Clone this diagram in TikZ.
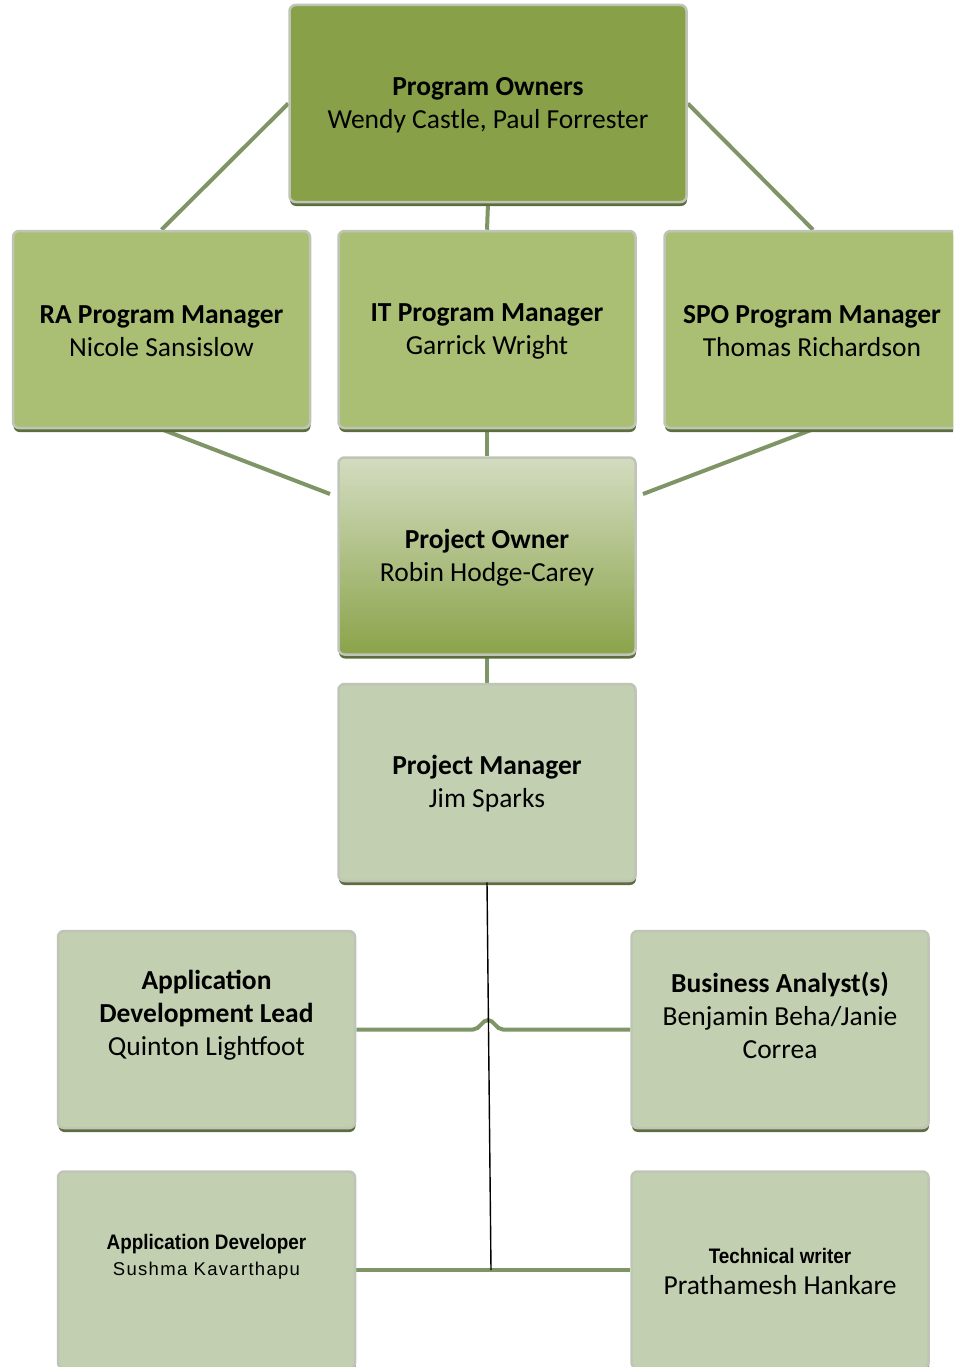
\documentclass[tikz,border=0pt]{standalone}
\usepackage{fontspec}
\setmainfont{Carlito}
\newfontfamily\arialn[FakeStretch=0.9]{Liberation Sans}
\newfontfamily\arialsp[LetterSpace=7]{Liberation Sans}
\usetikzlibrary{shadows,backgrounds}
\definecolor{dkolive}{HTML}{88A048}
\definecolor{midgreen}{HTML}{AABF74}
\definecolor{sage}{HTML}{C2CFB0}
\definecolor{pogtop}{HTML}{D3DCC0}
\definecolor{pogbot}{HTML}{8BA34A}
\definecolor{conn}{HTML}{7F9566}
\definecolor{rimlight}{HTML}{BFC5B6}
\definecolor{rimdark}{HTML}{5E6D3D}
\tikzset{
  orgbox/.style={rectangle, rounded corners=6pt, minimum width=297pt, minimum height=197pt,
    inner sep=0pt, draw=rimlight, line width=2.5pt,
    drop shadow={shadow xshift=0.5pt, shadow yshift=-4pt, fill=rimdark, opacity=1}},
  txt/.style={align=center, inner sep=0pt, font=\fontsize{27.5}{33}\selectfont},
  link/.style={draw=conn, line width=4pt},
  thin/.style={draw=black, line width=1.4pt}
}
\begin{document}
\begin{tikzpicture}[x=1pt,y=-1pt]
\useasboundingbox (0,0) rectangle (953,1367);
\clip (0,0) rectangle (953,1367);
% boxes
\node[orgbox, fill=dkolive, minimum width=397pt] (po) at (488,103.5) {};
\node[orgbox, fill=midgreen] (ra) at (161.5,329.5) {};
\node[orgbox, fill=midgreen] (it) at (487,329.5) {};
\node[orgbox, fill=midgreen] (spo) at (813,329.5) {};
\node[orgbox, top color=pogtop, bottom color=pogbot] (pown) at (487,556) {};
\node[orgbox, fill=sage] (pm) at (487,782.5) {};
\node[orgbox, fill=sage] (adl) at (206.5,1029.5) {};
\node[orgbox, fill=sage] (ba) at (780,1029.5) {};
\node[orgbox, fill=sage] (ad) at (206.5,1270) {};
\node[orgbox, fill=sage] (tw) at (780,1270) {};
% texts
\node[txt] (tpo) at (488,105) {\textbf{Program Owners}\\Wendy Castle, Paul Forrester};
\node[txt] (tra) at (161.5,331) {\textbf{RA Program Manager}\\Nicole Sansislow};
\node[txt] (tit) at (487,331.5) {\textbf{IT Program Manager}\\Garrick Wright};
\node[txt] (tspo) at (812,331) {\textbf{SPO Program Manager}\\Thomas Richardson};
\node[txt] (tpown) at (487,558) {\textbf{Project Owner}\\Robin Hodge-Carey};
\node[txt] (tpm) at (487,784) {\textbf{Project Manager}\\Jim Sparks};
\node[txt] (tadl) at (206.5,1015.5) {\textbf{Application}\\\textbf{Development Lead}\\Quinton Lightfoot};
\node[txt] (tba) at (780,1015) {\textbf{Business Analyst(s)}\\Benjamin Beha/Janie\\Correa};
\node[align=center, inner sep=0pt, font=\fontsize{18}{26}\selectfont] (tad) at (206.5,1257)
  {{\arialn\bfseries\fontsize{21}{26}\selectfont Application Developer}\\{\arialsp\fontsize{18.5}{26}\selectfont Sushma Kavarthapu}};
\node[align=center, inner sep=0pt, font=\fontsize{24}{31}\selectfont] (ttw) at (780,1271)
  {{\arialn\bfseries\fontsize{21}{31}\selectfont Technical writer}\\{\fontsize{27.5}{31}\selectfont Prathamesh Hankare}};
% connector end points
\coordinate (raend) at (330,494);
\coordinate (spoend) at (643,494);
\coordinate (pmend) at (491,1270);
\begin{pgfonlayer}{background}
\draw[link] (po.west) -- (ra.north);
\draw[link] (po.east) -- (spo.north);
\draw[link] (po.south) -- (it.north);
\draw[link] (ra.south) -- (raend);
\draw[link] (spo.south) -- (spoend);
\draw[link] (it.south) -- (pown.north);
\draw[link] (pown.south) -- (pm.north);
\draw[link] (ad.east) -- (tw.west);
\draw[link] (adl.east) -- (473,1029.5) .. controls (480,1029.5) and (482,1020) .. (488,1020) .. controls (494,1020) and (496,1029.5) .. (503,1029.5) -- (ba.west);
\end{pgfonlayer}
\draw[thin] (pm.south) -- (pmend);
\end{tikzpicture}
\end{document}
